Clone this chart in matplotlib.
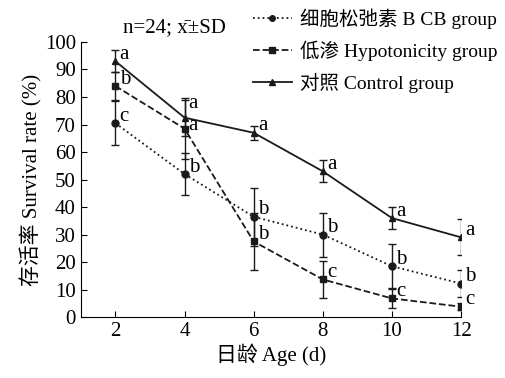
import matplotlib
matplotlib.use("Agg")
import matplotlib.pyplot as plt
from matplotlib.lines import Line2D

plt.rcParams['font.family'] = ['Liberation Serif', 'Noto Sans CJK SC']

# data
days = [2, 4, 6, 8, 10, 12]

cb_mean = [70.5, 52.0, 36.5, 30.0, 18.5, 12.2]
cb_sd = [8.0, 7.5, 10.5, 8.0, 8.0, 5.0]
cb_letters = ["c", "b", "b", "b", "b", "b"]

hypo_mean = [84.0, 68.5, 27.5, 13.7, 6.8, 3.8]
hypo_sd = [5.0, 11.0, 10.5, 6.8, 3.5, 1.2]
hypo_letters = ["b", "a", "b", "c", "c", "c"]

ctrl_mean = [93.0, 72.5, 67.0, 53.0, 36.0, 29.0]
ctrl_sd = [4.0, 6.5, 2.5, 4.0, 4.0, 6.5]
ctrl_letters = ["a", "a", "a", "a", "a", "a"]

yticks = [0, 10, 20, 30, 40, 50, 60, 70, 80, 90, 100]

fig = plt.figure(figsize=(5.05, 3.78), dpi=100)
ax = fig.add_axes([0.160, 0.161, 0.753, 0.728])

groups = [
    (cb_mean, cb_sd, cb_letters, ":", "o", "细胞松弛素 B CB group"),
    (hypo_mean, hypo_sd, hypo_letters, "--", "s", "低渗 Hypotonicity group"),
    (ctrl_mean, ctrl_sd, ctrl_letters, "-", "^", "对照 Control group"),
]
handles = []
for mean, sd, letters, ls, mk, lab in groups:
    ax.errorbar(days, mean, yerr=sd, color="#1a1a1a", ls=ls, lw=1.3,
                marker=mk, ms=5, capsize=3, elinewidth=1.0, capthick=1.0)
    handles.append(Line2D([], [], color="#1a1a1a", ls=ls, lw=1.3,
                          marker=mk, ms=4, label=lab))
    for d, m, t in zip(days, mean, letters):
        dy = 2.5
        # the two "a" labels at day 4 sit close, lift the upper one
        if mean is ctrl_mean and d == 4:
            dy = 5.0
        if mean is hypo_mean and d == 4:
            dy = 1.0
        ax.text(d + 0.12, m + dy, t, fontsize=15, ha="left", va="center")

ax.set_xlim(1, 12)
ax.set_ylim(0, 100)
ax.set_xticks(days)
ax.set_yticks(yticks)
ax.spines["top"].set_visible(False)
ax.spines["right"].set_visible(False)
ax.tick_params(labelsize=15, direction="in", length=4)
ax.set_xlabel("日龄 Age (d)", fontsize=15, labelpad=2)
ax.set_ylabel("存活率 Survival rate (%)", fontsize=15, labelpad=2)

fig.text(0.244, 0.928, "n=24; x\u0304±SD", fontsize=15, va="center")
ax.legend(handles=handles, loc="upper right", bbox_to_anchor=(1.115, 1.15),
          frameon=False, fontsize=14, handlelength=2.0, handletextpad=0.4,
          labelspacing=0.6, borderaxespad=0)

fig.savefig("out.png", dpi=100)
